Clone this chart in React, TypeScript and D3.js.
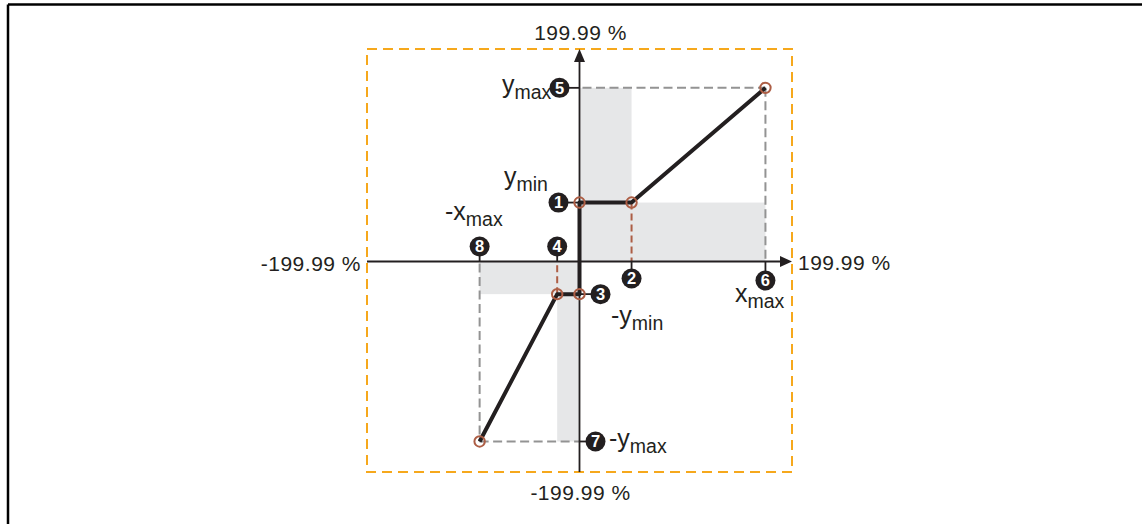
import React from "react";
import * as d3 from "d3";

// Axis extent labels
const axisLabels = { top: "199.99 %", bottom: "-199.99 %", left: "-199.99 %", right: "199.99 %" };
const axisDomain = [-200, 200];

// Characteristic parameters (in %)
const xMax = 175;
const xMaxNeg = -94;
const yMax = 165;
const yMaxNeg = -171;
const yMin = 56;
const yMinNeg = -31;
const xKneePos = 49;
const xKneeNeg = -21;

// Characteristic curve points [x, y]
const curvePoints: [number, number][] = [
  [xMax, yMax],
  [xKneePos, yMin],
  [0, yMin],
  [0, yMinNeg],
  [xKneeNeg, yMinNeg],
  [xMaxNeg, yMaxNeg],
];
// Points marked with small circles
const markedPoints: [number, number][] = [
  [0, yMin],
  [xKneePos, yMin],
  [xMax, yMax],
  [0, yMinNeg],
  [xKneeNeg, yMinNeg],
  [xMaxNeg, yMaxNeg],
];

const W = 1142;
const H = 524;
const FONT = "'Liberation Sans', Arial, sans-serif";
const INK = "#231f20";
const ORANGE = "#f6a81c";
const GRAYFILL = "#e6e7e8";
const GRAYDASH = "#939393";
const BROWN = "#ad5e45";

export default function App() {
  const x = d3.scaleLinear().domain(axisDomain).range([367, 792]);
  const y = d3.scaleLinear().domain(axisDomain).range([472, 51]);
  const x0 = x(0);
  const y0 = y(0);
  const line = d3.line<[number, number]>().x((d) => x(d[0])).y((d) => y(d[1]));

  const rects = [
    [0, xKneePos, yMin, yMax],
    [0, xMax, 0, yMin],
    [xMaxNeg, 0, yMinNeg, 0],
    [xKneeNeg, 0, yMaxNeg, yMinNeg],
  ];

  const r = 10;
  const markers: { n: string; cx: number; cy: number }[] = [
    { n: "1", cx: x0 - 21, cy: y(yMin) },
    { n: "2", cx: x(xKneePos), cy: y0 + 17 },
    { n: "3", cx: x0 + 21, cy: y(yMinNeg) },
    { n: "4", cx: x(xKneeNeg), cy: y0 - 15 },
    { n: "5", cx: x0 - 20, cy: y(yMax) },
    { n: "6", cx: x(xMax), cy: y0 + 19 },
    { n: "7", cx: x0 + 16, cy: y(yMaxNeg) },
    { n: "8", cx: x(xMaxNeg), cy: y0 - 15 },
  ];

  const sub = (pre: string, main: string, s: string, px: number, py: number, anchor: string = "start") => (
    <text x={px} y={py} fontFamily={FONT} fontSize={25} fill={INK} textAnchor={anchor}>
      {pre}
      {main}
      <tspan fontSize={19.5} dy={6}>{s}</tspan>
    </text>
  );

  const numStyle = { fontFamily: FONT, fontSize: 21, fill: INK, letterSpacing: "0.5px" } as const;

  return (
    <svg width={W} height={H} style={{ position: "absolute", left: 0, top: 0, background: "#fff" }}>
      {/* frame */}
      <line x1={8} y1={4.5} x2={W} y2={4.5} stroke="#000" strokeWidth={2.5} />
      <line x1={8} y1={4.5} x2={8} y2={H} stroke="#000" strokeWidth={2.5} />

      {/* orange dashed box */}
      <rect x={x(-200)} y={y(200) - 2} width={x(200) - x(-200)} height={y(-200) - y(200) + 2}
        fill="none" stroke={ORANGE} strokeWidth={2} strokeDasharray="10 6" />

      {/* gray shaded regions */}
      {rects.map((rc, i) => (
        <rect key={i} x={x(rc[0])} y={y(rc[3])} width={x(rc[1]) - x(rc[0])} height={y(rc[2]) - y(rc[3])} fill={GRAYFILL} />
      ))}

      {/* gray dashed guides */}
      <g stroke={GRAYDASH} strokeWidth={2} strokeDasharray="9 4.5" fill="none">
        <line x1={x0 + 3} y1={y(yMax)} x2={x(xMax)} y2={y(yMax)} />
        <line x1={x(xMax)} y1={y(yMax)} x2={x(xMax)} y2={y0} />
        <line x1={x(xMaxNeg)} y1={y0 + 2} x2={x(xMaxNeg)} y2={y(yMaxNeg)} />
        <line x1={x(xMaxNeg)} y1={y(yMaxNeg)} x2={x0} y2={y(yMaxNeg)} />
      </g>
      {/* brown dashed guides */}
      <g stroke={BROWN} strokeWidth={2} strokeDasharray="7 4" fill="none">
        <line x1={x(xKneePos)} y1={y(yMin)} x2={x(xKneePos)} y2={y0} />
        <line x1={x(xKneeNeg)} y1={y(yMinNeg)} x2={x(xKneeNeg)} y2={y0} />
      </g>

      {/* marker connectors */}
      <g stroke={INK} strokeWidth={1.8}>
        {markers.map((m, i) => {
          const isVert = ["2", "4", "6", "8"].includes(m.n);
          return isVert ? (
            <line key={i} x1={m.cx} y1={y0} x2={m.cx} y2={m.cy} />
          ) : (
            <line key={i} x1={x0} y1={m.cy} x2={m.cx} y2={m.cy} />
          );
        })}
      </g>

      {/* axes */}
      <g stroke={INK} strokeWidth={1.8}>
        <line x1={x(-200)} y1={y0} x2={x(200) - 10} y2={y0} />
        <line x1={x0} y1={y(-200)} x2={x0} y2={y(200) + 10} />
      </g>
      <path d={`M${x(200)},${y0} L${x(200) - 12},${y0 - 5.5} L${x(200) - 12},${y0 + 5.5} Z`} fill={INK} />
      <path d={`M${x0},${y(200) - 2} L${x0 - 5.5},${y(200) + 11} L${x0 + 5.5},${y(200) + 11} Z`} fill={INK} />

      {/* characteristic */}
      <path d={line(curvePoints) || ""} fill="none" stroke={INK} strokeWidth={4} strokeLinejoin="round" />

      {/* marked points */}
      {markedPoints.map((p, i) => (
        <circle key={i} cx={x(p[0])} cy={y(p[1])} r={5.2} fill="none" stroke={BROWN} strokeWidth={2} />
      ))}

      {/* numbered markers */}
      {markers.map((m, i) => (
        <g key={i}>
          <circle cx={m.cx} cy={m.cy} r={r} fill={INK} />
          <text x={m.cx} y={m.cy + 5.8} textAnchor="middle" fontFamily={FONT} fontWeight="bold" fontSize={16.5} fill="#fff">
            {m.n}
          </text>
        </g>
      ))}

      {/* axis extent labels */}
      <text x={x0 + 1} y={40} textAnchor="middle" {...numStyle}>{axisLabels.top}</text>
      <text x={x0 + 1} y={500} textAnchor="middle" {...numStyle}>{axisLabels.bottom}</text>
      <text x={361} y={y0 + 9} textAnchor="end" {...numStyle}>{axisLabels.left}</text>
      <text x={798} y={y0 + 8} textAnchor="start" {...numStyle}>{axisLabels.right}</text>

      {/* parameter labels */}
      {sub("", "y", "max", 502, y(yMax) + 5)}
      {sub("", "y", "min", 504, 185)}
      {sub("-", "x", "max", 445, 220)}
      {sub("", "x", "max", 735, 302)}
      {sub("-", "y", "min", 611, 324)}
      {sub("-", "y", "max", 609, y(yMaxNeg) + 6)}
    </svg>
  );
}
